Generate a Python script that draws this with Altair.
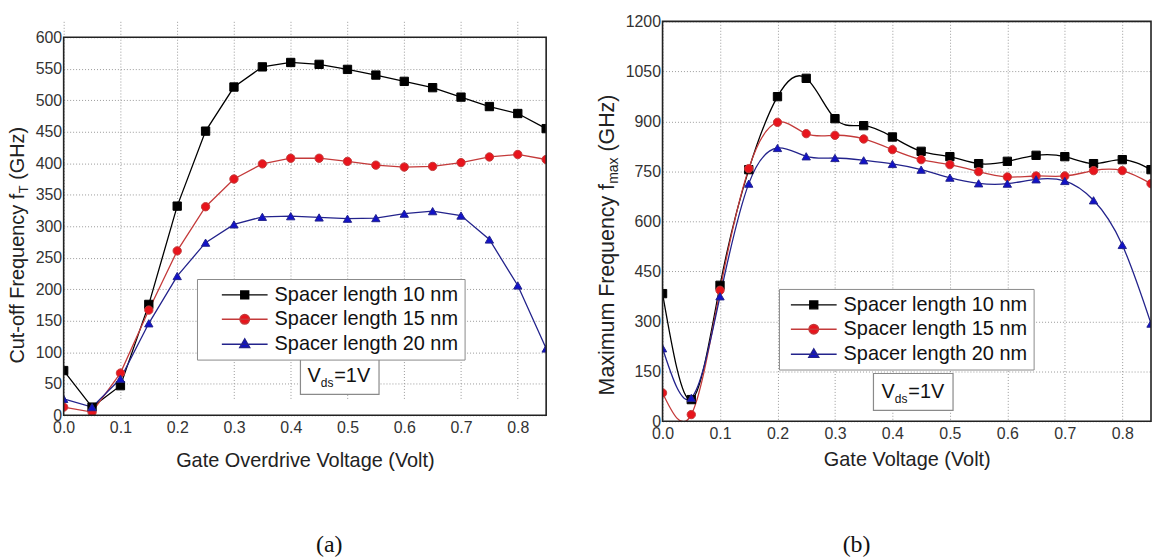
import altair as alt
import pandas as pd

# ---------------- data ----------------
series = ["Spacer length 10 nm", "Spacer length 15 nm", "Spacer length 20 nm"]
vg = [0.00, 0.05, 0.10, 0.15, 0.20, 0.25, 0.30, 0.35, 0.40,
      0.45, 0.50, 0.55, 0.60, 0.65, 0.70, 0.75, 0.80, 0.85]

# (a) cut-off frequency fT (GHz)
ft_10 = [71, 13, 47, 176, 332, 451, 521, 553, 560, 557, 549, 540, 530, 520, 505, 490, 479, 455]
ft_15 = [13, 5, 67, 167, 261, 331, 375, 399, 408, 408, 403, 397, 394, 395, 401, 410, 414, 406]
ft_20 = [26, 13, 58, 146, 221, 274, 303, 315, 316, 314, 312, 313, 320, 324, 317, 279, 206, 106]

# (b) maximum frequency fmax (GHz)
fmax_10 = [383, 65, 408, 755, 974, 1029, 908, 887, 853, 810, 794, 773, 780, 798, 794, 773, 785, 755]
fmax_15 = [85, 20, 393, 758, 897, 863, 858, 847, 815, 785, 770, 749, 733, 736, 736, 752, 752, 713]
fmax_20 = [219, 70, 375, 713, 820, 795, 790, 783, 772, 755, 731, 714, 713, 726, 721, 663, 529, 293]

x_ticks = [0.0, 0.1, 0.2, 0.3, 0.4, 0.5, 0.6, 0.7, 0.8]
ft_ticks = [0, 50, 100, 150, 200, 250, 300, 350, 400, 450, 500, 550, 600]
fmax_ticks = [0, 150, 300, 450, 600, 750, 900, 1050, 1200]

# ---------------- styles ----------------
FONT = "Liberation Sans"
GRID = "#9a9a9a"
marker_fill = ["#000000", "#e8141c", "#1212c8"]
line_color = ["#000000", "#c43a3a", "#23238c"]
marker_shapes = ["square", "circle", "triangle-up"]
legend_shapes = [
    "M-5.75,0H5.75M-1,-1H1V1H-1Z",
    "M-5.75,0H5.75M-1.2,0A1.2,1.2 0 1,0 1.2,0A1.2,1.2 0 1,0 -1.2,0Z",
    "M-5.75,0.15H5.75M0,-1.2L1.25,0.95H-1.25Z",
]


def long_df(cols):
    rows = []
    for name, vals in zip(series, cols):
        for x, v in zip(vg, vals):
            rows.append({"vg": x, "val": v, "series": name})
    return pd.DataFrame(rows)


df_a = long_df([ft_10, ft_15, ft_20])
df_b = long_df([fmax_10, fmax_15, fmax_20])
anno = pd.DataFrame({"k": [0]})


def panel(df, ydom, yticks, w, h, top, interp, xtitle, xtitle_pad,
          leg_xy, sym_off, box, vds, ytitle, caption):
    xscale = alt.Scale(domain=[0, 0.85], nice=False, zero=False)
    xenc = alt.X("vg:Q", scale=xscale,
                 axis=alt.Axis(values=x_ticks, format=".1f", grid=True,
                               gridDash=[1, 2], gridColor=GRID, gridWidth=1,
                               tickSize=0, domain=False, labelPadding=4,
                               labelFontSize=16, labelFont=FONT, labelColor="#333",
                               labelFlush=False, labelOverlap=False,
                               title=xtitle, titleFontSize=20, titleFont=FONT,
                               titleFontWeight="normal", titleColor="#222",
                               titlePadding=xtitle_pad))
    yenc = alt.Y("val:Q",
                 scale=alt.Scale(domain=ydom, range=[h, top], nice=False, zero=False),
                 axis=alt.Axis(values=yticks, format="d", grid=True, gridDash=[1, 2],
                               gridColor=GRID, gridWidth=1, tickSize=0,
                               domain=False, labelPadding=2, labelFontSize=16,
                               labelFont=FONT, labelColor="#333",
                               labelFlush=False, labelOverlap=False, title=""))
    fill_sc = alt.Scale(domain=series, range=marker_fill)
    stroke_sc = alt.Scale(domain=series, range=line_color)

    lines = alt.Chart(df).mark_line(strokeWidth=1.3, interpolate=interp, clip=True).encode(
        x=xenc, y=yenc,
        stroke=alt.Stroke("series:N", scale=stroke_sc, legend=None),
    )
    points = alt.Chart(df).mark_point(filled=True, opacity=1, size=70, strokeWidth=1,
                                      clip=True).encode(
        x=xenc, y=yenc,
        fill=alt.Fill("series:N", scale=fill_sc, legend=None),
        stroke=alt.Stroke("series:N", scale=stroke_sc, legend=None),
        shape=alt.Shape("series:N", scale=alt.Scale(domain=series, range=marker_shapes),
                        legend=None),
    )

    def lg():
        return alt.Legend(orient="none", legendX=leg_xy[0], legendY=leg_xy[1],
                          labelFontSize=20, labelFont=FONT, labelColor="#111",
                          labelLimit=400, strokeColor="#8a8a8a", fillColor="white",
                          padding=6, rowPadding=4.5, symbolSize=64,
                          symbolOffset=sym_off, labelOffset=20, symbolStrokeWidth=1.4)

    legend_layer = alt.Chart(df).transform_filter("false").mark_point(
        filled=True, opacity=1, size=64, strokeWidth=1.4).encode(
        fill=alt.Fill("series:N", scale=fill_sc, title=None, legend=lg()),
        stroke=alt.Stroke("series:N", scale=stroke_sc, title=None, legend=lg()),
        shape=alt.Shape("series:N", scale=alt.Scale(domain=series, range=legend_shapes),
                        title=None, legend=lg()),
    )

    # V_ds annotation box
    vbox = alt.Chart(anno).mark_rect(fill="white", stroke="#8a8a8a", strokeWidth=1.2).encode(
        x=alt.value(box[0]), x2=alt.value(box[1]), y=alt.value(box[2]), y2=alt.value(box[3]))
    layers = [lines, points, legend_layer, vbox]
    for txt, fs, xx, yy in vds:
        layers.append(alt.Chart(anno).mark_text(align="left", baseline="middle", fontSize=fs,
                                                font=FONT, color="#111").encode(
            x=alt.value(xx), y=alt.value(yy), text=alt.value(txt)))
    # rotated y title with subscript
    for txt, fs, xx, yy in ytitle:
        layers.append(alt.Chart(anno).mark_text(align="left", baseline="middle", angle=270,
                                                fontSize=fs, font=FONT, color="#222").encode(
            x=alt.value(xx), y=alt.value(yy), text=alt.value(txt)))
    # caption (a)/(b)
    layers.append(alt.Chart(anno).mark_text(align="center", baseline="middle", fontSize=24,
                                            font="Liberation Serif", color="#111").encode(
        x=alt.value(caption[1]), y=alt.value(caption[2]), text=alt.value(caption[0])))
    # plot frame
    layers.append(alt.Chart(anno).mark_rect(fill="transparent", stroke="#222",
                                            strokeWidth=1.6).encode(
        x=alt.value(0), x2=alt.value(w), y=alt.value(top), y2=alt.value(h)))

    return alt.layer(*layers).resolve_scale(
        fill="independent", stroke="independent", shape="independent"
    ).properties(width=w, height=h)


# left panel: plot area from y=16 to y=396 inside its 396-px view
left = panel(
    df_a, [0, 600], ft_ticks, 485, 396, 16, "linear",
    "Gate Overdrive Voltage (Volt)", 15,
    (134, 259), 32,
    (238, 317, 339, 375),
    [("V", 20, 245, 357), ("ds", 12, 258.5, 364), ("=1V", 20, 272, 357)],
    [("Cut-off Frequency f", 20, -46, 344), ("T", 13, -40, 172.8), ("(GHz)", 20, -46, 159.3)],
    ("(a)", 267, 526),
)

right = panel(
    df_b, [0, 1200], fmax_ticks, 491, 402, 0, "natural",
    "Gate Voltage (Volt)", 8,
    (117, 269), 19,
    (212, 292, 354, 391),
    [("V", 20, 220, 372.5), ("ds", 12, 233.5, 379.5), ("=1V", 20, 247, 372.5)],
    [("Maximum Frequency f", 21.5, -55, 376), ("max", 14, -49, 163.3), ("(GHz)", 21.5, -55, 130.9)],
    ("(b)", 195, 526),
)

chart = alt.hconcat(left, right, spacing=117, bounds="flush").properties(
    padding={"left": 7, "top": 11, "right": 0, "bottom": 0},
).configure(font=FONT, background="white").configure_view(stroke="transparent")

chart.save("out.html", embed_options={"renderer": "svg", "actions": False})
